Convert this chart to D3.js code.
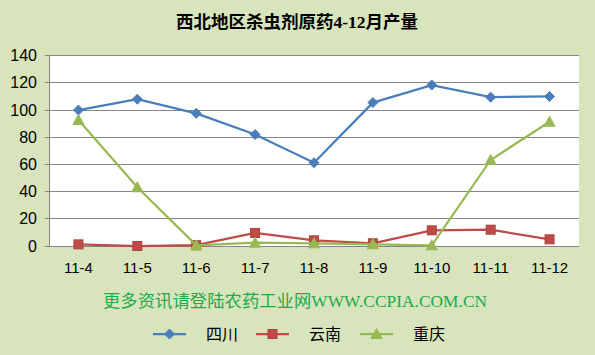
<!DOCTYPE html>
<html><head><meta charset="utf-8">
<script src="https://cdn.jsdelivr.net/npm/d3@7"></script>
<style>html,body{margin:0;padding:0;background:#d8e4bc;}svg{display:block;}</style>
</head><body>
<svg id="c" width="595" height="355"></svg>
<script>
const categories = ["11-4","11-5","11-6","11-7","11-8","11-9","11-10","11-11","11-12"];
const sichuan = [100, 108, 97.6, 82, 61.3, 105.5, 118.4, 109.5, 110];
const yunnan = [1.2, 0, 0.6, 9.6, 4.2, 2, 11.5, 12, 4.9];
const chongqing = [92.7, 43.2, 0.5, 2.4, 2, 1.2, 0.5, 63.3, 91.4];
const seriesNames = ["四川","云南","重庆"];
const yTicks = [0,20,40,60,80,100,120,140];
const title = "西北地区杀虫剂原药4-12月产量";
const watermark = "更多资讯请登陆农药工业网WWW.CCPIA.COM.CN";

const colors = ["#4a7ebb","#be4b48","#98b954"];
const series = [sichuan, yunnan, chongqing];
const svg = d3.select("#c");
const L = 49, R = 579, T = 55.7, B = 246;
svg.append("rect").attr("x",0).attr("y",0).attr("width",595).attr("height",355).attr("fill","#d8e4bc");
svg.append("rect").attr("x",L).attr("y",T).attr("width",R-L).attr("height",B-T).attr("fill","#ffffff");

const x = d3.scaleBand().domain(categories).range([L,R]);
const y = d3.scaleLinear().domain([0,140]).range([B,T]);

// grid
svg.append("g").selectAll("line").data(yTicks).join("line")
  .attr("x1",L-4).attr("x2",R).attr("y1",d=>y(d)).attr("y2",d=>y(d))
  .attr("stroke","#868686").attr("stroke-width",1).attr("shape-rendering","crispEdges");
svg.append("line").attr("x1",L).attr("x2",L).attr("y1",T).attr("y2",B)
  .attr("stroke","#868686").attr("shape-rendering","crispEdges");

// y labels
svg.append("g").selectAll("text").data(yTicks).join("text")
  .attr("x",37).attr("y",d=>y(d)+5.5).attr("text-anchor","end")
  .attr("font-family","Liberation Sans, Arial, sans-serif").attr("font-size",16).attr("fill","#000")
  .text(d=>d);
// x labels
svg.append("g").selectAll("text").data(categories).join("text")
  .attr("x",d=>x(d)+x.bandwidth()/2).attr("y",273).attr("text-anchor","middle")
  .attr("font-family","Liberation Sans, Arial, sans-serif").attr("font-size",15).attr("fill","#000")
  .text(d=>d);

// title
svg.append("text").attr("x",297).attr("y",28).attr("text-anchor","middle")
  .attr("font-family","Liberation Serif, 'Noto Sans CJK SC', serif").attr("font-weight","bold")
  .attr("font-size",17.5).attr("fill","#000").text(title);

// watermark
svg.append("text").attr("x",295).attr("y",307).attr("text-anchor","middle")
  .attr("font-family","Liberation Serif, 'Noto Sans CJK SC', serif")
  .attr("font-size",17.3).attr("textLength",384).attr("fill","#22aa4c").text(watermark);

const line = d3.line().x((d,i)=>x(categories[i])+x.bandwidth()/2).y(d=>y(d));
function marker(g, type, cx, cy, col){
  if(type===0){
    g.append("path").attr("d",`M${cx},${cy-5}L${cx+5},${cy}L${cx},${cy+5}L${cx-5},${cy}Z`).attr("fill",col).attr("stroke",col);
  } else if(type===1){
    g.append("rect").attr("x",cx-4.5).attr("y",cy-4.5).attr("width",9).attr("height",9).attr("fill",col).attr("stroke",d3.color(col).darker(0.3));
  } else {
    g.append("path").attr("d",`M${cx},${cy-5.5}L${cx+5.5},${cy+4.5}L${cx-5.5},${cy+4.5}Z`).attr("fill",col).attr("stroke",col);
  }
}
series.forEach((s,k)=>{
  const g = svg.append("g");
  g.append("path").datum(s).attr("d",line).attr("fill","none").attr("stroke",colors[k]).attr("stroke-width",2.25);
  s.forEach((v,i)=>marker(g,k,x(categories[i])+x.bandwidth()/2,y(v),colors[k]));
});

// legend
const lx = [153, 256, 360];
seriesNames.forEach((n,k)=>{
  const g = svg.append("g");
  g.append("line").attr("x1",lx[k]).attr("x2",lx[k]+33).attr("y1",334).attr("y2",334).attr("stroke",colors[k]).attr("stroke-width",2.25);
  marker(g,k,lx[k]+16.5,334,colors[k]);
  g.append("text").attr("x",lx[k]+53).attr("y",340).attr("font-family","'Noto Sans CJK SC', sans-serif")
    .attr("font-size",16).attr("fill","#000").text(n);
});
</script>
</body></html>
